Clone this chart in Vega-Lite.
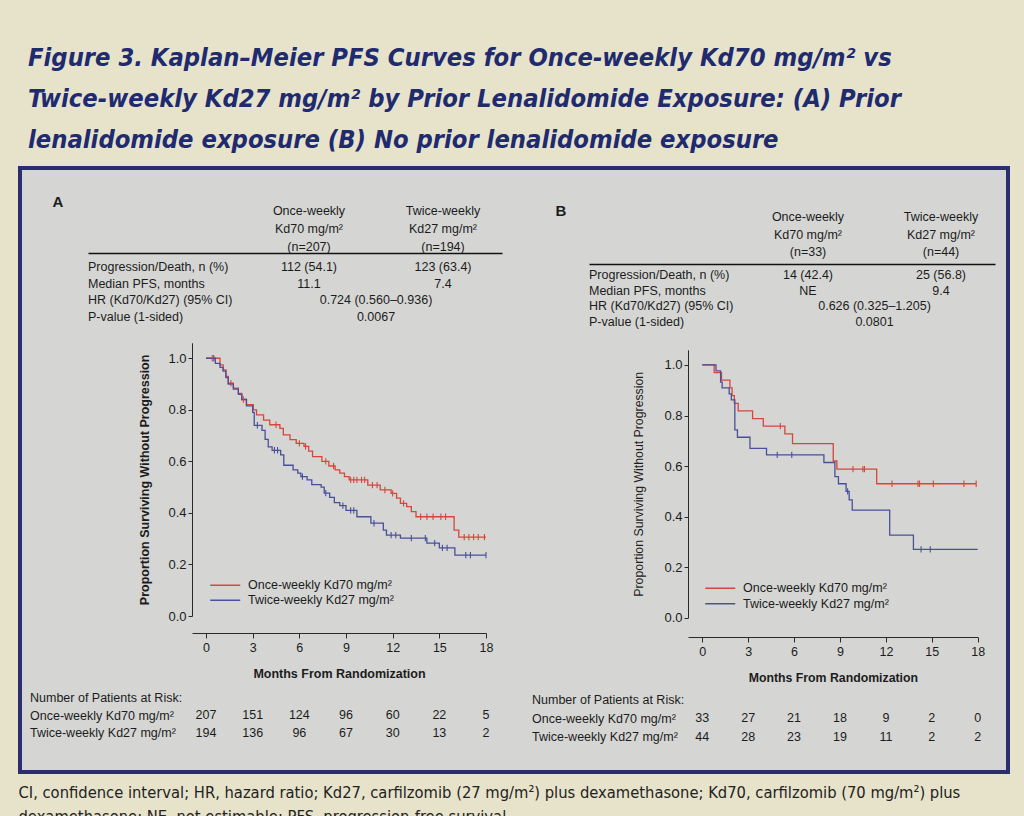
{
"$schema": "https://vega.github.io/schema/vega-lite/v6.json",
"width": 988, "height": 604,
"autosize": {"type": "none"},
"padding": {"left": 20, "top": 168, "right": 16, "bottom": 44},
"background": "#e7e3cb",
"title": {"text": ["Figure 3. Kaplan–Meier PFS Curves for Once-weekly Kd70 mg/m² vs", "Twice-weekly Kd27 mg/m² by Prior Lenalidomide Exposure: (A) Prior", "lenalidomide exposure (B) No prior lenalidomide exposure"], "anchor": "start", "frame": "group", "font": "DejaVu Sans Condensed, Liberation Sans, sans-serif", "fontSize": 25.3, "fontStyle": "italic", "fontWeight": "bold", "color": "#202a6e", "lineHeight": 41, "offset": 15, "dx": 8},
"datasets": {
"letters": [{"panel": "A"}, {"panel": "B"}],
"head": [
{"panel": "A", "arm": "Kd70", "line": 1, "text": "Once-weekly"}, {"panel": "A", "arm": "Kd70", "line": 2, "text": "Kd70 mg/m²"}, {"panel": "A", "arm": "Kd70", "line": 3, "text": "(n=207)"},
{"panel": "A", "arm": "Kd27", "line": 1, "text": "Twice-weekly"}, {"panel": "A", "arm": "Kd27", "line": 2, "text": "Kd27 mg/m²"}, {"panel": "A", "arm": "Kd27", "line": 3, "text": "(n=194)"},
{"panel": "B", "arm": "Kd70", "line": 1, "text": "Once-weekly"}, {"panel": "B", "arm": "Kd70", "line": 2, "text": "Kd70 mg/m²"}, {"panel": "B", "arm": "Kd70", "line": 3, "text": "(n=33)"},
{"panel": "B", "arm": "Kd27", "line": 1, "text": "Twice-weekly"}, {"panel": "B", "arm": "Kd27", "line": 2, "text": "Kd27 mg/m²"}, {"panel": "B", "arm": "Kd27", "line": 3, "text": "(n=44)"}
],
"stats": [
{"panel": "A", "metric": "Progression/Death, n (%)", "arm": "Kd70", "value": "112 (54.1)"},
{"panel": "A", "metric": "Progression/Death, n (%)", "arm": "Kd27", "value": "123 (63.4)"},
{"panel": "A", "metric": "Median PFS, months", "arm": "Kd70", "value": "11.1"},
{"panel": "A", "metric": "Median PFS, months", "arm": "Kd27", "value": "7.4"},
{"panel": "A", "metric": "HR (Kd70/Kd27) (95% CI)", "arm": "both", "value": "0.724 (0.560–0.936)"},
{"panel": "A", "metric": "P-value (1-sided)", "arm": "both", "value": "0.0067"},
{"panel": "B", "metric": "Progression/Death, n (%)", "arm": "Kd70", "value": "14 (42.4)"},
{"panel": "B", "metric": "Progression/Death, n (%)", "arm": "Kd27", "value": "25 (56.8)"},
{"panel": "B", "metric": "Median PFS, months", "arm": "Kd70", "value": "NE"},
{"panel": "B", "metric": "Median PFS, months", "arm": "Kd27", "value": "9.4"},
{"panel": "B", "metric": "HR (Kd70/Kd27) (95% CI)", "arm": "both", "value": "0.626 (0.325–1.205)"},
{"panel": "B", "metric": "P-value (1-sided)", "arm": "both", "value": "0.0801"}
],
"km": [
{"panel": "A", "arm": "Once-weekly Kd70 mg/m²", "t": 0, "s": 1.0},
{"panel": "A", "arm": "Once-weekly Kd70 mg/m²", "t": 0.9, "s": 0.974},
{"panel": "A", "arm": "Once-weekly Kd70 mg/m²", "t": 1.1, "s": 0.955},
{"panel": "A", "arm": "Once-weekly Kd70 mg/m²", "t": 1.28, "s": 0.93},
{"panel": "A", "arm": "Once-weekly Kd70 mg/m²", "t": 1.43, "s": 0.903},
{"panel": "A", "arm": "Once-weekly Kd70 mg/m²", "t": 1.76, "s": 0.884},
{"panel": "A", "arm": "Once-weekly Kd70 mg/m²", "t": 2.08, "s": 0.864},
{"panel": "A", "arm": "Once-weekly Kd70 mg/m²", "t": 2.3, "s": 0.84},
{"panel": "A", "arm": "Once-weekly Kd70 mg/m²", "t": 2.6, "s": 0.82},
{"panel": "A", "arm": "Once-weekly Kd70 mg/m²", "t": 3.04, "s": 0.8},
{"panel": "A", "arm": "Once-weekly Kd70 mg/m²", "t": 3.25, "s": 0.78},
{"panel": "A", "arm": "Once-weekly Kd70 mg/m²", "t": 3.7, "s": 0.76},
{"panel": "A", "arm": "Once-weekly Kd70 mg/m²", "t": 4.1, "s": 0.742},
{"panel": "A", "arm": "Once-weekly Kd70 mg/m²", "t": 4.75, "s": 0.728},
{"panel": "A", "arm": "Once-weekly Kd70 mg/m²", "t": 4.97, "s": 0.703},
{"panel": "A", "arm": "Once-weekly Kd70 mg/m²", "t": 5.4, "s": 0.684},
{"panel": "A", "arm": "Once-weekly Kd70 mg/m²", "t": 5.8, "s": 0.67},
{"panel": "A", "arm": "Once-weekly Kd70 mg/m²", "t": 6.3, "s": 0.658},
{"panel": "A", "arm": "Once-weekly Kd70 mg/m²", "t": 6.6, "s": 0.64},
{"panel": "A", "arm": "Once-weekly Kd70 mg/m²", "t": 6.85, "s": 0.618},
{"panel": "A", "arm": "Once-weekly Kd70 mg/m²", "t": 7.45, "s": 0.6},
{"panel": "A", "arm": "Once-weekly Kd70 mg/m²", "t": 7.9, "s": 0.582},
{"panel": "A", "arm": "Once-weekly Kd70 mg/m²", "t": 8.3, "s": 0.567},
{"panel": "A", "arm": "Once-weekly Kd70 mg/m²", "t": 8.6, "s": 0.554},
{"panel": "A", "arm": "Once-weekly Kd70 mg/m²", "t": 8.9, "s": 0.541},
{"panel": "A", "arm": "Once-weekly Kd70 mg/m²", "t": 9.2, "s": 0.528},
{"panel": "A", "arm": "Once-weekly Kd70 mg/m²", "t": 10.4, "s": 0.508},
{"panel": "A", "arm": "Once-weekly Kd70 mg/m²", "t": 11.2, "s": 0.489},
{"panel": "A", "arm": "Once-weekly Kd70 mg/m²", "t": 11.9, "s": 0.476},
{"panel": "A", "arm": "Once-weekly Kd70 mg/m²", "t": 12.25, "s": 0.457},
{"panel": "A", "arm": "Once-weekly Kd70 mg/m²", "t": 12.5, "s": 0.437},
{"panel": "A", "arm": "Once-weekly Kd70 mg/m²", "t": 12.9, "s": 0.424},
{"panel": "A", "arm": "Once-weekly Kd70 mg/m²", "t": 13.2, "s": 0.405},
{"panel": "A", "arm": "Once-weekly Kd70 mg/m²", "t": 13.5, "s": 0.385},
{"panel": "A", "arm": "Once-weekly Kd70 mg/m²", "t": 15.95, "s": 0.333},
{"panel": "A", "arm": "Once-weekly Kd70 mg/m²", "t": 16.25, "s": 0.306},
{"panel": "A", "arm": "Once-weekly Kd70 mg/m²", "t": 18.0, "s": 0.306},
{"panel": "A", "arm": "Twice-weekly Kd27 mg/m²", "t": 0, "s": 1.0},
{"panel": "A", "arm": "Twice-weekly Kd27 mg/m²", "t": 0.6, "s": 0.98},
{"panel": "A", "arm": "Twice-weekly Kd27 mg/m²", "t": 0.9, "s": 0.965},
{"panel": "A", "arm": "Twice-weekly Kd27 mg/m²", "t": 1.1, "s": 0.95},
{"panel": "A", "arm": "Twice-weekly Kd27 mg/m²", "t": 1.28, "s": 0.925},
{"panel": "A", "arm": "Twice-weekly Kd27 mg/m²", "t": 1.43, "s": 0.9},
{"panel": "A", "arm": "Twice-weekly Kd27 mg/m²", "t": 1.76, "s": 0.88},
{"panel": "A", "arm": "Twice-weekly Kd27 mg/m²", "t": 2.08, "s": 0.86},
{"panel": "A", "arm": "Twice-weekly Kd27 mg/m²", "t": 2.3, "s": 0.84},
{"panel": "A", "arm": "Twice-weekly Kd27 mg/m²", "t": 2.6, "s": 0.815},
{"panel": "A", "arm": "Twice-weekly Kd27 mg/m²", "t": 3.0, "s": 0.79},
{"panel": "A", "arm": "Twice-weekly Kd27 mg/m²", "t": 3.1, "s": 0.74},
{"panel": "A", "arm": "Twice-weekly Kd27 mg/m²", "t": 3.6, "s": 0.72},
{"panel": "A", "arm": "Twice-weekly Kd27 mg/m²", "t": 3.8, "s": 0.685},
{"panel": "A", "arm": "Twice-weekly Kd27 mg/m²", "t": 4.0, "s": 0.656},
{"panel": "A", "arm": "Twice-weekly Kd27 mg/m²", "t": 4.25, "s": 0.643},
{"panel": "A", "arm": "Twice-weekly Kd27 mg/m²", "t": 4.8, "s": 0.625},
{"panel": "A", "arm": "Twice-weekly Kd27 mg/m²", "t": 5.0, "s": 0.585},
{"panel": "A", "arm": "Twice-weekly Kd27 mg/m²", "t": 5.6, "s": 0.567},
{"panel": "A", "arm": "Twice-weekly Kd27 mg/m²", "t": 5.9, "s": 0.554},
{"panel": "A", "arm": "Twice-weekly Kd27 mg/m²", "t": 6.1, "s": 0.541},
{"panel": "A", "arm": "Twice-weekly Kd27 mg/m²", "t": 6.5, "s": 0.528},
{"panel": "A", "arm": "Twice-weekly Kd27 mg/m²", "t": 6.8, "s": 0.51},
{"panel": "A", "arm": "Twice-weekly Kd27 mg/m²", "t": 7.4, "s": 0.5},
{"panel": "A", "arm": "Twice-weekly Kd27 mg/m²", "t": 7.6, "s": 0.477},
{"panel": "A", "arm": "Twice-weekly Kd27 mg/m²", "t": 7.95, "s": 0.46},
{"panel": "A", "arm": "Twice-weekly Kd27 mg/m²", "t": 8.25, "s": 0.44},
{"panel": "A", "arm": "Twice-weekly Kd27 mg/m²", "t": 8.6, "s": 0.428},
{"panel": "A", "arm": "Twice-weekly Kd27 mg/m²", "t": 9.0, "s": 0.41},
{"panel": "A", "arm": "Twice-weekly Kd27 mg/m²", "t": 9.7, "s": 0.385},
{"panel": "A", "arm": "Twice-weekly Kd27 mg/m²", "t": 10.6, "s": 0.36},
{"panel": "A", "arm": "Twice-weekly Kd27 mg/m²", "t": 11.4, "s": 0.333},
{"panel": "A", "arm": "Twice-weekly Kd27 mg/m²", "t": 11.6, "s": 0.314},
{"panel": "A", "arm": "Twice-weekly Kd27 mg/m²", "t": 12.5, "s": 0.302},
{"panel": "A", "arm": "Twice-weekly Kd27 mg/m²", "t": 14.2, "s": 0.283},
{"panel": "A", "arm": "Twice-weekly Kd27 mg/m²", "t": 15.0, "s": 0.264},
{"panel": "A", "arm": "Twice-weekly Kd27 mg/m²", "t": 16.0, "s": 0.236},
{"panel": "A", "arm": "Twice-weekly Kd27 mg/m²", "t": 18.0, "s": 0.236},
{"panel": "B", "arm": "Once-weekly Kd70 mg/m²", "t": 0, "s": 1.0},
{"panel": "B", "arm": "Once-weekly Kd70 mg/m²", "t": 0.78, "s": 0.97},
{"panel": "B", "arm": "Once-weekly Kd70 mg/m²", "t": 1.26, "s": 0.94},
{"panel": "B", "arm": "Once-weekly Kd70 mg/m²", "t": 1.81, "s": 0.909},
{"panel": "B", "arm": "Once-weekly Kd70 mg/m²", "t": 1.95, "s": 0.879},
{"panel": "B", "arm": "Once-weekly Kd70 mg/m²", "t": 2.1, "s": 0.848},
{"panel": "B", "arm": "Once-weekly Kd70 mg/m²", "t": 2.35, "s": 0.818},
{"panel": "B", "arm": "Once-weekly Kd70 mg/m²", "t": 3.29, "s": 0.788},
{"panel": "B", "arm": "Once-weekly Kd70 mg/m²", "t": 3.99, "s": 0.758},
{"panel": "B", "arm": "Once-weekly Kd70 mg/m²", "t": 5.4, "s": 0.727},
{"panel": "B", "arm": "Once-weekly Kd70 mg/m²", "t": 5.9, "s": 0.689},
{"panel": "B", "arm": "Once-weekly Kd70 mg/m²", "t": 8.56, "s": 0.62},
{"panel": "B", "arm": "Once-weekly Kd70 mg/m²", "t": 8.8, "s": 0.588},
{"panel": "B", "arm": "Once-weekly Kd70 mg/m²", "t": 11.4, "s": 0.53},
{"panel": "B", "arm": "Once-weekly Kd70 mg/m²", "t": 17.9, "s": 0.53},
{"panel": "B", "arm": "Twice-weekly Kd27 mg/m²", "t": 0, "s": 1.0},
{"panel": "B", "arm": "Twice-weekly Kd27 mg/m²", "t": 0.9, "s": 0.977},
{"panel": "B", "arm": "Twice-weekly Kd27 mg/m²", "t": 1.2, "s": 0.932},
{"panel": "B", "arm": "Twice-weekly Kd27 mg/m²", "t": 1.3, "s": 0.909},
{"panel": "B", "arm": "Twice-weekly Kd27 mg/m²", "t": 1.76, "s": 0.886},
{"panel": "B", "arm": "Twice-weekly Kd27 mg/m²", "t": 1.9, "s": 0.862},
{"panel": "B", "arm": "Twice-weekly Kd27 mg/m²", "t": 2.13, "s": 0.743},
{"panel": "B", "arm": "Twice-weekly Kd27 mg/m²", "t": 2.3, "s": 0.714},
{"panel": "B", "arm": "Twice-weekly Kd27 mg/m²", "t": 3.12, "s": 0.67},
{"panel": "B", "arm": "Twice-weekly Kd27 mg/m²", "t": 4.2, "s": 0.644},
{"panel": "B", "arm": "Twice-weekly Kd27 mg/m²", "t": 7.95, "s": 0.614},
{"panel": "B", "arm": "Twice-weekly Kd27 mg/m²", "t": 8.67, "s": 0.558},
{"panel": "B", "arm": "Twice-weekly Kd27 mg/m²", "t": 8.9, "s": 0.53},
{"panel": "B", "arm": "Twice-weekly Kd27 mg/m²", "t": 9.4, "s": 0.5},
{"panel": "B", "arm": "Twice-weekly Kd27 mg/m²", "t": 9.6, "s": 0.466},
{"panel": "B", "arm": "Twice-weekly Kd27 mg/m²", "t": 9.8, "s": 0.426},
{"panel": "B", "arm": "Twice-weekly Kd27 mg/m²", "t": 12.25, "s": 0.327},
{"panel": "B", "arm": "Twice-weekly Kd27 mg/m²", "t": 13.8, "s": 0.27},
{"panel": "B", "arm": "Twice-weekly Kd27 mg/m²", "t": 18.0, "s": 0.27}
],
"censor": [
{"panel": "A", "arm": "Once-weekly Kd70 mg/m²", "t": 0.4, "s": 1.0},
{"panel": "A", "arm": "Once-weekly Kd70 mg/m²", "t": 1.6, "s": 0.903},
{"panel": "A", "arm": "Once-weekly Kd70 mg/m²", "t": 2.4, "s": 0.84},
{"panel": "A", "arm": "Once-weekly Kd70 mg/m²", "t": 4.5, "s": 0.742},
{"panel": "A", "arm": "Once-weekly Kd70 mg/m²", "t": 6.0, "s": 0.67},
{"panel": "A", "arm": "Once-weekly Kd70 mg/m²", "t": 6.4, "s": 0.658},
{"panel": "A", "arm": "Once-weekly Kd70 mg/m²", "t": 7.7, "s": 0.6},
{"panel": "A", "arm": "Once-weekly Kd70 mg/m²", "t": 8.2, "s": 0.582},
{"panel": "A", "arm": "Once-weekly Kd70 mg/m²", "t": 9.3, "s": 0.528},
{"panel": "A", "arm": "Once-weekly Kd70 mg/m²", "t": 9.5, "s": 0.528},
{"panel": "A", "arm": "Once-weekly Kd70 mg/m²", "t": 9.7, "s": 0.528},
{"panel": "A", "arm": "Once-weekly Kd70 mg/m²", "t": 10.0, "s": 0.528},
{"panel": "A", "arm": "Once-weekly Kd70 mg/m²", "t": 10.2, "s": 0.528},
{"panel": "A", "arm": "Once-weekly Kd70 mg/m²", "t": 10.7, "s": 0.508},
{"panel": "A", "arm": "Once-weekly Kd70 mg/m²", "t": 11.0, "s": 0.508},
{"panel": "A", "arm": "Once-weekly Kd70 mg/m²", "t": 11.5, "s": 0.489},
{"panel": "A", "arm": "Once-weekly Kd70 mg/m²", "t": 12.0, "s": 0.476},
{"panel": "A", "arm": "Once-weekly Kd70 mg/m²", "t": 12.7, "s": 0.437},
{"panel": "A", "arm": "Once-weekly Kd70 mg/m²", "t": 13.8, "s": 0.385},
{"panel": "A", "arm": "Once-weekly Kd70 mg/m²", "t": 14.2, "s": 0.385},
{"panel": "A", "arm": "Once-weekly Kd70 mg/m²", "t": 14.6, "s": 0.385},
{"panel": "A", "arm": "Once-weekly Kd70 mg/m²", "t": 15.1, "s": 0.385},
{"panel": "A", "arm": "Once-weekly Kd70 mg/m²", "t": 15.4, "s": 0.385},
{"panel": "A", "arm": "Once-weekly Kd70 mg/m²", "t": 16.6, "s": 0.306},
{"panel": "A", "arm": "Once-weekly Kd70 mg/m²", "t": 16.9, "s": 0.306},
{"panel": "A", "arm": "Once-weekly Kd70 mg/m²", "t": 17.2, "s": 0.306},
{"panel": "A", "arm": "Once-weekly Kd70 mg/m²", "t": 17.5, "s": 0.306},
{"panel": "A", "arm": "Once-weekly Kd70 mg/m²", "t": 17.9, "s": 0.306},
{"panel": "A", "arm": "Twice-weekly Kd27 mg/m²", "t": 0.5, "s": 1.0},
{"panel": "A", "arm": "Twice-weekly Kd27 mg/m²", "t": 3.3, "s": 0.74},
{"panel": "A", "arm": "Twice-weekly Kd27 mg/m²", "t": 4.4, "s": 0.643},
{"panel": "A", "arm": "Twice-weekly Kd27 mg/m²", "t": 4.6, "s": 0.643},
{"panel": "A", "arm": "Twice-weekly Kd27 mg/m²", "t": 6.2, "s": 0.541},
{"panel": "A", "arm": "Twice-weekly Kd27 mg/m²", "t": 7.7, "s": 0.477},
{"panel": "A", "arm": "Twice-weekly Kd27 mg/m²", "t": 8.8, "s": 0.428},
{"panel": "A", "arm": "Twice-weekly Kd27 mg/m²", "t": 9.3, "s": 0.41},
{"panel": "A", "arm": "Twice-weekly Kd27 mg/m²", "t": 9.5, "s": 0.41},
{"panel": "A", "arm": "Twice-weekly Kd27 mg/m²", "t": 10.8, "s": 0.36},
{"panel": "A", "arm": "Twice-weekly Kd27 mg/m²", "t": 11.9, "s": 0.314},
{"panel": "A", "arm": "Twice-weekly Kd27 mg/m²", "t": 12.2, "s": 0.314},
{"panel": "A", "arm": "Twice-weekly Kd27 mg/m²", "t": 13.2, "s": 0.302},
{"panel": "A", "arm": "Twice-weekly Kd27 mg/m²", "t": 14.1, "s": 0.302},
{"panel": "A", "arm": "Twice-weekly Kd27 mg/m²", "t": 14.7, "s": 0.283},
{"panel": "A", "arm": "Twice-weekly Kd27 mg/m²", "t": 15.2, "s": 0.264},
{"panel": "A", "arm": "Twice-weekly Kd27 mg/m²", "t": 15.5, "s": 0.264},
{"panel": "A", "arm": "Twice-weekly Kd27 mg/m²", "t": 16.7, "s": 0.236},
{"panel": "A", "arm": "Twice-weekly Kd27 mg/m²", "t": 17.0, "s": 0.236},
{"panel": "A", "arm": "Twice-weekly Kd27 mg/m²", "t": 18.0, "s": 0.236},
{"panel": "B", "arm": "Once-weekly Kd70 mg/m²", "t": 5.1, "s": 0.758},
{"panel": "B", "arm": "Once-weekly Kd70 mg/m²", "t": 9.85, "s": 0.588},
{"panel": "B", "arm": "Once-weekly Kd70 mg/m²", "t": 10.5, "s": 0.588},
{"panel": "B", "arm": "Once-weekly Kd70 mg/m²", "t": 10.6, "s": 0.588},
{"panel": "B", "arm": "Once-weekly Kd70 mg/m²", "t": 12.4, "s": 0.53},
{"panel": "B", "arm": "Once-weekly Kd70 mg/m²", "t": 14.1, "s": 0.53},
{"panel": "B", "arm": "Once-weekly Kd70 mg/m²", "t": 14.2, "s": 0.53},
{"panel": "B", "arm": "Once-weekly Kd70 mg/m²", "t": 15.1, "s": 0.53},
{"panel": "B", "arm": "Once-weekly Kd70 mg/m²", "t": 17.1, "s": 0.53},
{"panel": "B", "arm": "Once-weekly Kd70 mg/m²", "t": 17.9, "s": 0.53},
{"panel": "B", "arm": "Twice-weekly Kd27 mg/m²", "t": 4.9, "s": 0.644},
{"panel": "B", "arm": "Twice-weekly Kd27 mg/m²", "t": 5.85, "s": 0.644},
{"panel": "B", "arm": "Twice-weekly Kd27 mg/m²", "t": 9.5, "s": 0.5},
{"panel": "B", "arm": "Twice-weekly Kd27 mg/m²", "t": 14.3, "s": 0.27},
{"panel": "B", "arm": "Twice-weekly Kd27 mg/m²", "t": 14.9, "s": 0.27}
],
"riskLabels": [
{"panel": "A", "row": "Number of Patients at Risk:"}, {"panel": "A", "row": "Once-weekly Kd70 mg/m²"}, {"panel": "A", "row": "Twice-weekly Kd27 mg/m²"},
{"panel": "B", "row": "Number of Patients at Risk:"}, {"panel": "B", "row": "Once-weekly Kd70 mg/m²"}, {"panel": "B", "row": "Twice-weekly Kd27 mg/m²"}
],
"risk": [
{"panel": "A", "arm": "Once-weekly Kd70 mg/m²", "t": 0, "n": 207}, {"panel": "A", "arm": "Once-weekly Kd70 mg/m²", "t": 3, "n": 151}, {"panel": "A", "arm": "Once-weekly Kd70 mg/m²", "t": 6, "n": 124}, {"panel": "A", "arm": "Once-weekly Kd70 mg/m²", "t": 9, "n": 96}, {"panel": "A", "arm": "Once-weekly Kd70 mg/m²", "t": 12, "n": 60}, {"panel": "A", "arm": "Once-weekly Kd70 mg/m²", "t": 15, "n": 22}, {"panel": "A", "arm": "Once-weekly Kd70 mg/m²", "t": 18, "n": 5},
{"panel": "A", "arm": "Twice-weekly Kd27 mg/m²", "t": 0, "n": 194}, {"panel": "A", "arm": "Twice-weekly Kd27 mg/m²", "t": 3, "n": 136}, {"panel": "A", "arm": "Twice-weekly Kd27 mg/m²", "t": 6, "n": 96}, {"panel": "A", "arm": "Twice-weekly Kd27 mg/m²", "t": 9, "n": 67}, {"panel": "A", "arm": "Twice-weekly Kd27 mg/m²", "t": 12, "n": 30}, {"panel": "A", "arm": "Twice-weekly Kd27 mg/m²", "t": 15, "n": 13}, {"panel": "A", "arm": "Twice-weekly Kd27 mg/m²", "t": 18, "n": 2},
{"panel": "B", "arm": "Once-weekly Kd70 mg/m²", "t": 0, "n": 33}, {"panel": "B", "arm": "Once-weekly Kd70 mg/m²", "t": 3, "n": 27}, {"panel": "B", "arm": "Once-weekly Kd70 mg/m²", "t": 6, "n": 21}, {"panel": "B", "arm": "Once-weekly Kd70 mg/m²", "t": 9, "n": 18}, {"panel": "B", "arm": "Once-weekly Kd70 mg/m²", "t": 12, "n": 9}, {"panel": "B", "arm": "Once-weekly Kd70 mg/m²", "t": 15, "n": 2}, {"panel": "B", "arm": "Once-weekly Kd70 mg/m²", "t": 18, "n": 0},
{"panel": "B", "arm": "Twice-weekly Kd27 mg/m²", "t": 0, "n": 44}, {"panel": "B", "arm": "Twice-weekly Kd27 mg/m²", "t": 3, "n": 28}, {"panel": "B", "arm": "Twice-weekly Kd27 mg/m²", "t": 6, "n": 23}, {"panel": "B", "arm": "Twice-weekly Kd27 mg/m²", "t": 9, "n": 19}, {"panel": "B", "arm": "Twice-weekly Kd27 mg/m²", "t": 12, "n": 11}, {"panel": "B", "arm": "Twice-weekly Kd27 mg/m²", "t": 15, "n": 2}, {"panel": "B", "arm": "Twice-weekly Kd27 mg/m²", "t": 18, "n": 2}
]
},
"layer": [
{"data": {"name": "letters"}, "mark": {"type": "text", "fontWeight": "bold", "fontSize": 15},
 "encoding": {"x": {"field": "panel", "type": "nominal", "scale": {"type": "point", "domain": ["A", "B"], "range": [38, 541], "padding": 0}, "axis": null},
  "y": {"field": "panel", "type": "nominal", "scale": {"type": "point", "domain": ["A", "B"], "range": [34, 43], "padding": 0}, "axis": null},
  "text": {"field": "panel"}}},

{"data": {"name": "head"}, "transform": [{"filter": "datum.panel === 'A'"}], "mark": {"type": "text", "fontSize": 12.5},
 "encoding": {"x": {"field": "arm", "type": "nominal", "scale": {"type": "point", "domain": ["Kd70", "both", "Kd27"], "range": [289, 423], "padding": 0}, "axis": null},
  "y": {"field": "line", "type": "ordinal", "scale": {"type": "point", "domain": [1, 2, 3], "range": [43, 79], "padding": 0}, "axis": null},
  "text": {"field": "text"}}},
{"data": {"name": "stats"}, "transform": [{"filter": "datum.panel === 'A' && datum.arm !== 'Kd27'"}], "mark": {"type": "text", "align": "left", "fontSize": 12.5},
 "encoding": {"x": {"datum": 0, "type": "quantitative", "scale": {"domain": [0, 1], "range": [68, 482]}, "axis": {"orient": "top", "offset": -85, "domain": true, "domainWidth": 1.6, "domainColor": "#111111", "ticks": false, "labels": false, "title": null}},
  "y": {"field": "metric", "type": "nominal", "scale": {"type": "point", "domain": ["Progression/Death, n (%)", "Median PFS, months", "HR (Kd70/Kd27) (95% CI)", "P-value (1-sided)"], "range": [99, 149], "padding": 0}, "axis": null},
  "text": {"field": "metric"}}},
{"data": {"name": "stats"}, "transform": [{"filter": "datum.panel === 'A'"}], "mark": {"type": "text", "fontSize": 12.5},
 "encoding": {"x": {"field": "arm", "type": "nominal", "scale": {"type": "point", "domain": ["Kd70", "both", "Kd27"], "range": [289, 423], "padding": 0}, "axis": null},
  "y": {"field": "metric", "type": "nominal", "scale": {"type": "point", "domain": ["Progression/Death, n (%)", "Median PFS, months", "HR (Kd70/Kd27) (95% CI)", "P-value (1-sided)"], "range": [99, 149], "padding": 0}, "axis": null},
  "text": {"field": "value"}}},
{"data": {"name": "km"}, "transform": [{"filter": "datum.panel === 'A'"}], "mark": {"type": "line", "interpolate": "step-after", "strokeWidth": 1.3},
 "encoding": {"x": {"field": "t", "type": "quantitative", "scale": {"domain": [-0.9, 18], "range": [172, 466], "nice": false, "zero": false}, "axis": {"orient": "bottom", "offset": -139, "values": [0, 3, 6, 9, 12, 15, 18], "tickSize": 5, "labelPadding": 3, "labelFontSize": 12.5, "title": "Months From Randomization", "titleFontWeight": "bold", "titleFontSize": 12.5, "titlePadding": 14, "labelFlush": false}},
  "y": {"field": "s", "type": "quantitative", "scale": {"domain": [0, 1.06], "range": [448, 174.8], "nice": false, "zero": false}, "axis": {"orient": "left", "offset": -172, "values": [0, 0.2, 0.4, 0.6, 0.8, 1], "format": ".1f", "tickSize": 4, "labelPadding": 2, "labelFontSize": 13, "title": "Proportion Surviving Without Progression", "titleFontWeight": "bold", "titleFontSize": 12.5, "titlePadding": 16}},
  "color": {"field": "arm", "type": "nominal", "scale": {"domain": ["Once-weekly Kd70 mg/m²", "Twice-weekly Kd27 mg/m²"], "range": ["#d8453b", "#4a4f9a"]}, "legend": {"orient": "none", "legendX": 199, "legendY": 411, "title": null, "symbolType": "M-3,0H3", "symbolSize": 100, "symbolStrokeWidth": 1.5, "labelFontSize": 12.5, "labelOffset": 16.5, "rowPadding": 2, "padding": 0, "labelLimit": 400}}}},
{"data": {"name": "censor"}, "transform": [{"filter": "datum.panel === 'A'"}], "mark": {"type": "point", "shape": "M0,-1V1", "size": 40, "filled": false, "strokeWidth": 1.1, "opacity": 1},
 "encoding": {"x": {"field": "t", "type": "quantitative", "scale": {"domain": [-0.9, 18], "range": [172, 466], "nice": false, "zero": false}, "axis": null},
  "y": {"field": "s", "type": "quantitative", "scale": {"domain": [0, 1.06], "range": [448, 174.8], "nice": false, "zero": false}, "axis": null},
  "color": {"field": "arm", "type": "nominal", "scale": {"domain": ["Once-weekly Kd70 mg/m²", "Twice-weekly Kd27 mg/m²"], "range": ["#d8453b", "#4a4f9a"]}, "legend": null}}},
{"data": {"name": "riskLabels"}, "transform": [{"filter": "datum.panel === 'A'"}], "mark": {"type": "text", "align": "left", "fontSize": 12.5},
 "encoding": {"x": {"datum": 0, "type": "quantitative", "scale": {"domain": [0, 1], "range": [10, 200]}, "axis": {"orient": "bottom", "offset": 0, "domain": false, "ticks": false, "labels": false, "grid": false, "title": ["CI, confidence interval; HR, hazard ratio; Kd27, carfilzomib (27 mg/m²) plus dexamethasone; Kd70, carfilzomib (70 mg/m²) plus", "dexamethasone; NE, not estimable; PFS, progression-free survival"], "titleFont": "DejaVu Sans Condensed, Liberation Sans, sans-serif", "titleFontSize": 16.4, "titleFontWeight": "normal", "titleColor": "#222222", "titleAlign": "left", "titleAnchor": "start", "titleX": -2, "titleY": 12, "titleBaseline": "top", "titleLineHeight": 24}},
  "y": {"field": "row", "type": "nominal", "scale": {"type": "point", "domain": ["Number of Patients at Risk:", "Once-weekly Kd70 mg/m²", "Twice-weekly Kd27 mg/m²"], "range": [530, 565], "padding": 0}, "axis": null},
  "text": {"field": "row"}}},
{"data": {"name": "risk"}, "transform": [{"filter": "datum.panel === 'A'"}], "mark": {"type": "text", "fontSize": 12.5},
 "encoding": {"x": {"field": "t", "type": "quantitative", "scale": {"domain": [-0.9, 18], "range": [172, 466], "nice": false, "zero": false}, "axis": null},
  "y": {"field": "arm", "type": "nominal", "scale": {"type": "point", "domain": ["Once-weekly Kd70 mg/m²", "Twice-weekly Kd27 mg/m²"], "range": [547, 565], "padding": 0}, "axis": null},
  "text": {"field": "n", "type": "quantitative"}}},

{"data": {"name": "head"}, "transform": [{"filter": "datum.panel === 'B'"}], "mark": {"type": "text", "fontSize": 12.5},
 "encoding": {"x": {"field": "arm", "type": "nominal", "scale": {"type": "point", "domain": ["Kd70", "both", "Kd27"], "range": [788, 921], "padding": 0}, "axis": null},
  "y": {"field": "line", "type": "ordinal", "scale": {"type": "point", "domain": [1, 2, 3], "range": [49, 84], "padding": 0}, "axis": null},
  "text": {"field": "text"}}},
{"data": {"name": "stats"}, "transform": [{"filter": "datum.panel === 'B' && datum.arm !== 'Kd27'"}], "mark": {"type": "text", "align": "left", "fontSize": 12.5},
 "encoding": {"x": {"datum": 0, "type": "quantitative", "scale": {"domain": [0, 1], "range": [569, 975]}, "axis": {"orient": "top", "offset": -96, "domain": true, "domainWidth": 1.6, "domainColor": "#111111", "ticks": false, "labels": false, "title": null}},
  "y": {"field": "metric", "type": "nominal", "scale": {"type": "point", "domain": ["Progression/Death, n (%)", "Median PFS, months", "HR (Kd70/Kd27) (95% CI)", "P-value (1-sided)"], "range": [107, 154], "padding": 0}, "axis": null},
  "text": {"field": "metric"}}},
{"data": {"name": "stats"}, "transform": [{"filter": "datum.panel === 'B'"}], "mark": {"type": "text", "fontSize": 12.5},
 "encoding": {"x": {"field": "arm", "type": "nominal", "scale": {"type": "point", "domain": ["Kd70", "both", "Kd27"], "range": [788, 921], "padding": 0}, "axis": null},
  "y": {"field": "metric", "type": "nominal", "scale": {"type": "point", "domain": ["Progression/Death, n (%)", "Median PFS, months", "HR (Kd70/Kd27) (95% CI)", "P-value (1-sided)"], "range": [107, 154], "padding": 0}, "axis": null},
  "text": {"field": "value"}}},
{"data": {"name": "km"}, "transform": [{"filter": "datum.panel === 'B'"}], "mark": {"type": "line", "interpolate": "step-after", "strokeWidth": 1.3},
 "encoding": {"x": {"field": "t", "type": "quantitative", "scale": {"domain": [-0.93, 18], "range": [668, 957.7], "nice": false, "zero": false}, "axis": {"orient": "bottom", "offset": -135, "values": [0, 3, 6, 9, 12, 15, 18], "tickSize": 5, "labelPadding": 3, "labelFontSize": 12.5, "title": "Months From Randomization", "titleFontWeight": "bold", "titleFontSize": 12.3, "titlePadding": 14, "labelFlush": false}},
  "y": {"field": "s", "type": "quantitative", "scale": {"domain": [0, 1.06], "range": [449.7, 181.8], "nice": false, "zero": false}, "axis": {"orient": "left", "offset": -668, "values": [0, 0.2, 0.4, 0.6, 0.8, 1], "format": ".1f", "tickSize": 4, "labelPadding": 2, "labelFontSize": 13, "title": "Proportion Surviving Without Progression", "titleFontWeight": "normal", "titleFontSize": 12.3, "titlePadding": 18}},
  "color": {"field": "arm", "type": "nominal", "scale": {"domain": ["Once-weekly Kd70 mg/m²", "Twice-weekly Kd27 mg/m²"], "range": ["#d8453b", "#4a4f9a"]}, "legend": {"orient": "none", "legendX": 694, "legendY": 414, "title": null, "symbolType": "M-3,0H3", "symbolSize": 100, "symbolStrokeWidth": 1.5, "labelFontSize": 12.5, "labelOffset": 16.5, "rowPadding": 2.5, "padding": 0, "labelLimit": 400}}}},
{"data": {"name": "censor"}, "transform": [{"filter": "datum.panel === 'B'"}], "mark": {"type": "point", "shape": "M0,-1V1", "size": 40, "filled": false, "strokeWidth": 1.1, "opacity": 1},
 "encoding": {"x": {"field": "t", "type": "quantitative", "scale": {"domain": [-0.93, 18], "range": [668, 957.7], "nice": false, "zero": false}, "axis": null},
  "y": {"field": "s", "type": "quantitative", "scale": {"domain": [0, 1.06], "range": [449.7, 181.8], "nice": false, "zero": false}, "axis": null},
  "color": {"field": "arm", "type": "nominal", "scale": {"domain": ["Once-weekly Kd70 mg/m²", "Twice-weekly Kd27 mg/m²"], "range": ["#d8453b", "#4a4f9a"]}, "legend": null}}},
{"data": {"name": "riskLabels"}, "transform": [{"filter": "datum.panel === 'B'"}], "mark": {"type": "text", "align": "left", "fontSize": 12.5},
 "encoding": {"x": {"datum": 0, "type": "quantitative", "scale": {"domain": [0, 1], "range": [512, 700]}, "axis": null},
  "y": {"field": "row", "type": "nominal", "scale": {"type": "point", "domain": ["Number of Patients at Risk:", "Once-weekly Kd70 mg/m²", "Twice-weekly Kd27 mg/m²"], "range": [532, 569], "padding": 0}, "axis": null},
  "text": {"field": "row"}}},
{"data": {"name": "risk"}, "transform": [{"filter": "datum.panel === 'B'"}], "mark": {"type": "text", "fontSize": 12.5},
 "encoding": {"x": {"field": "t", "type": "quantitative", "scale": {"domain": [-0.93, 18], "range": [668, 957.7], "nice": false, "zero": false}, "axis": null},
  "y": {"field": "arm", "type": "nominal", "scale": {"type": "point", "domain": ["Once-weekly Kd70 mg/m²", "Twice-weekly Kd27 mg/m²"], "range": [550, 569], "padding": 0}, "axis": null},
  "text": {"field": "n", "type": "quantitative"}}}
],
"resolve": {"scale": {"x": "independent", "y": "independent", "color": "independent"}, "axis": {"x": "independent", "y": "independent"}, "legend": {"color": "independent"}},
"config": {
 "view": {"fill": "#d5d6d4", "stroke": "#2a2e6c", "strokeWidth": 4},
 "font": "Liberation Sans",
 "text": {"font": "Liberation Sans", "fontSize": 12.5, "color": "#1c1c1c", "baseline": "middle"},
 "axis": {"labelFont": "Liberation Sans", "titleFont": "Liberation Sans", "labelColor": "#1c1c1c", "titleColor": "#1c1c1c", "domainColor": "#2a2a2a", "tickColor": "#2a2a2a", "grid": false},
 "legend": {"labelFont": "Liberation Sans", "labelColor": "#1c1c1c"}
}
}
